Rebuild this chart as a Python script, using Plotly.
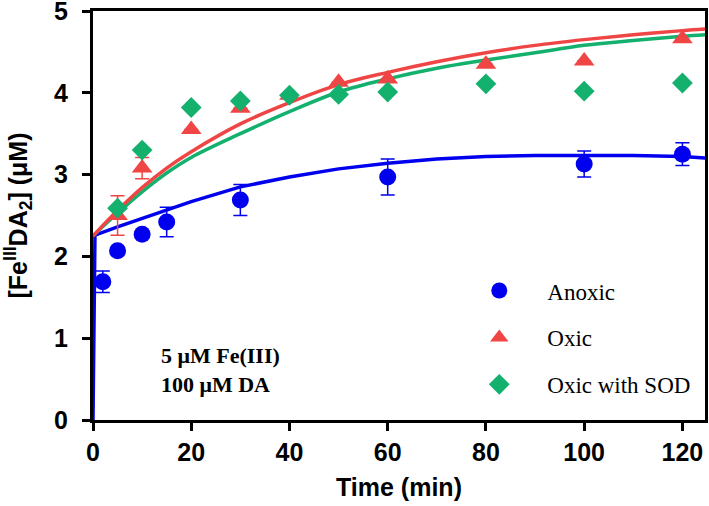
import plotly.graph_objects as go

# ---- measured data ----
t_anoxic = [2, 5, 10, 15, 30, 60, 100, 120]
y_anoxic = [1.69, 2.07, 2.27, 2.42, 2.69, 2.97, 3.13, 3.25]
e_anoxic = [0.13, 0.0, 0.0, 0.18, 0.19, 0.22, 0.16, 0.14]

t_oxic = [5, 10, 20, 30, 40, 50, 60, 80, 100, 120]
y_oxic = [2.50, 3.08, 3.55, 3.81, 3.97, 4.13, 4.17, 4.35, 4.39, 4.66]
e_oxic = [0.24, 0.13, 0, 0, 0, 0, 0, 0, 0, 0]

t_sod = [5, 10, 20, 30, 40, 50, 60, 80, 100, 120]
y_sod = [2.59, 3.30, 3.82, 3.90, 3.97, 3.98, 4.01, 4.11, 4.02, 4.12]

# fitted curves
t_fit_anoxic = [0, 0.4, 5, 10, 15, 20, 30, 40, 50, 60, 70, 80, 90, 100, 110, 120, 125]
y_fit_anoxic = [0, 2.26, 2.36, 2.46, 2.57, 2.67, 2.85, 2.97, 3.07, 3.14, 3.19, 3.22, 3.235, 3.24, 3.235, 3.22, 3.20]

t_fit = [0, 5, 10, 15, 20, 30, 40, 50, 60, 70, 80, 90, 100, 110, 120, 125]
y_fit_oxic = [2.25, 2.56, 2.84, 3.08, 3.28, 3.62, 3.88, 4.10, 4.25, 4.38, 4.49, 4.58, 4.65, 4.71, 4.76, 4.78]
y_fit_sod = [2.25, 2.53, 2.79, 3.02, 3.21, 3.50, 3.77, 4.01, 4.17, 4.30, 4.40, 4.49, 4.58, 4.64, 4.69, 4.71]

x_ticks = [0, 20, 40, 60, 80, 100, 120]
y_ticks = [0, 1, 2, 3, 4, 5]

series_names = ["Anoxic", "Oxic", "Oxic with SOD"]

BLUE = "#0000EE"
RED = "#F04545"
GREEN = "#14B06E"

PAD = "\u00a0\u00a0\u00a0\u00a0"

fig = go.Figure()

fig.add_trace(go.Scatter(x=t_fit_anoxic, y=y_fit_anoxic, mode="lines",
                         line=dict(color=BLUE, width=3.5), showlegend=False, hoverinfo="skip"))
fig.add_trace(go.Scatter(x=t_fit, y=y_fit_sod, mode="lines", line_shape="spline",
                         line=dict(color=GREEN, width=3.5), showlegend=False, hoverinfo="skip"))
fig.add_trace(go.Scatter(x=t_fit, y=y_fit_oxic, mode="lines", line_shape="spline",
                         line=dict(color=RED, width=3.5), showlegend=False, hoverinfo="skip"))

fig.add_trace(go.Scatter(x=t_anoxic, y=y_anoxic, mode="markers", name=PAD + series_names[0],
                         marker=dict(symbol="circle", size=17, color=BLUE),
                         error_y=dict(type="data", array=e_anoxic, color=BLUE, thickness=1.5, width=7),
                         legendgroup="a"))
fig.add_trace(go.Scatter(x=t_oxic, y=y_oxic, mode="markers", name=PAD + series_names[1],
                         marker=dict(symbol="triangle-up", size=18, color=RED),
                         error_y=dict(type="data", array=e_oxic, color=RED, thickness=1.5, width=7),
                         legendgroup="b"))
fig.add_trace(go.Scatter(x=t_sod, y=y_sod, mode="markers", name=PAD + series_names[2],
                         marker=dict(symbol="diamond", size=16, color=GREEN),
                         legendgroup="c"))

fig.add_annotation(x=13.4, y=0.61, xref="x", yref="y", xanchor="left", yanchor="middle",
                   text="<b>5 μM Fe(III)</b><br><b>100 μM DA</b>", showarrow=False, align="left",
                   font=dict(family="Liberation Serif", size=22, color="black"))

axis_common = dict(showline=True, linecolor="black", linewidth=3, mirror=True,
                   ticks="outside", ticklen=8, tickwidth=3, tickcolor="black",
                   showgrid=False, zeroline=False, automargin=False,
                   ticklabeloverflow="allow",
                   tickfont=dict(family="Liberation Sans", size=25, color="black", weight="bold"))

fig.update_xaxes(range=[0, 124.6], tickvals=x_ticks, ticktext=[str(v) for v in x_ticks],
                 title=dict(text="<b>Time (min)</b>", standoff=14,
                            font=dict(family="Liberation Sans", size=25, color="black")),
                 **axis_common)
fig.update_yaxes(range=[0, 5], tickvals=y_ticks, ticktext=[str(v) for v in y_ticks],
                 ticklabelstandoff=9,
                 title=dict(text="<b>[Fe<sup>III</sup>DA<sub>2</sub>] (μM)</b>", standoff=20,
                            font=dict(family="Liberation Sans", size=25, color="black")),
                 **axis_common)

fig.update_layout(
    width=709, height=506,
    margin=dict(l=93, r=4, t=11, b=86),
    plot_bgcolor="white", paper_bgcolor="white",
    legend=dict(x=0.623, y=0.369, xanchor="left", yanchor="top",
                font=dict(family="Liberation Serif", size=23, color="black"),
                bgcolor="rgba(0,0,0,0)", traceorder="grouped", tracegroupgap=14,
                itemwidth=40),
)

fig.write_html("out.html", config={"displayModeBar": False},
               post_script="document.body.style.margin='0';")
